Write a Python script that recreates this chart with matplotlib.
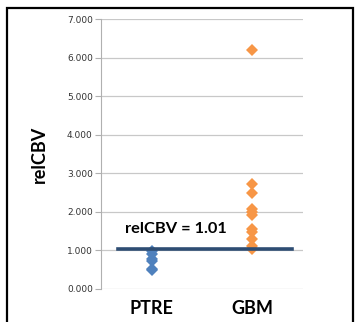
import matplotlib
matplotlib.use('Agg')
import matplotlib.pyplot as plt
from matplotlib.patches import Rectangle

groups = ['PTRE', 'GBM']
ptre_vals = [0.49, 0.53, 0.74, 0.78, 0.92, 0.98]
gbm_vals = [6.22, 2.73, 2.49, 2.08, 2.00, 1.93, 1.56, 1.49, 1.31, 1.12, 1.04]
cutoff = 1.05
cutoff_label = 'relCBV = 1.01'
yticks = [0, 1, 2, 3, 4, 5, 6, 7]

fig = plt.figure(figsize=(3.56, 3.22), dpi=100)
fig.patch.set_facecolor('white')
# outer black frame
fig.patches.append(Rectangle((7/356, -0.05), 346/356, 1.05 - 8/322,
                             transform=fig.transFigure, fill=False,
                             edgecolor='black', linewidth=1.6))

ax = fig.add_axes([0.284, 0.1025, 0.567, 0.837])
ax.set_xlim(0, 2)
ax.set_ylim(0, 7)
ax.set_yticks(yticks)
ax.set_yticklabels(['%.3f' % v for v in yticks], fontsize=6.5, color='#333333')
ax.yaxis.grid(True, color='#c8c8c8', linewidth=0.9)
ax.set_axisbelow(True)
for s in ['top', 'right', 'bottom']:
    ax.spines[s].set_visible(False)
ax.spines['left'].set_color('#b0b0b0')
ax.tick_params(axis='y', length=4, color='#b0b0b0', pad=2)
ax.set_xticks([0.5, 1.5])
ax.set_xticklabels(groups, fontsize=13, fontweight='bold', family='Lato')
ax.tick_params(axis='x', length=0, pad=8)
ax.set_ylabel('relCBV', fontsize=13, family='Lato', fontweight='bold', labelpad=14)

ax.plot([0.5] * len(ptre_vals), ptre_vals, 'D', color='#4f81bd', markersize=5.8, markeredgewidth=0)
ax.plot([1.5] * len(gbm_vals), gbm_vals, 'D', color='#f79646', markersize=5.8, markeredgewidth=0)

ax.plot([0.17, 1.89], [cutoff, cutoff], color='#2e4d73', linewidth=2.6)
ax.text(0.24, 1.55, cutoff_label, fontsize=11.8, fontweight='bold', family='Lato', va='center')

fig.savefig('out.png', dpi=100)
